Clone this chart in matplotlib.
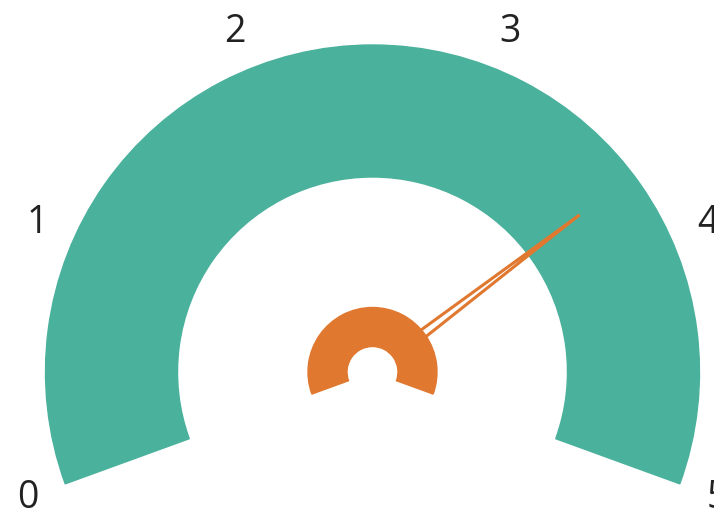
import numpy as np
import matplotlib.pyplot as plt
from matplotlib.patches import Wedge, Polygon

# gauge data
tick_values = [0, 1, 2, 3, 4, 5]
tick_labels = ["0", "1", "2", "3", "4", "5"]
gauge_min = 0
gauge_max = 5
needle_value = 3.7

start_angle = 200
end_angle = -20

band_color = "#4ab19c"
needle_color = "#e0782f"


def value_to_angle(v):
    frac = (v - gauge_min) / (gauge_max - gauge_min)
    return start_angle + frac * (end_angle - start_angle)


fig = plt.figure(figsize=(7.14, 5.11), dpi=100)
ax = fig.add_axes([0, 0, 1, 1])
ax.set_xlim(0, 714)
ax.set_ylim(0, 511)
ax.set_aspect("equal")
ax.axis("off")

cx, cy = 372.5, 139
r_out, r_in = 327, 195

ax.add_patch(Wedge((cx, cy), r_out, end_angle, start_angle,
                   width=r_out - r_in, color=band_color, zorder=1))

# needle: thin outlined wedge, its base hidden under the hub ring
a = np.radians(value_to_angle(needle_value))
u = np.array([np.cos(a), np.sin(a)])
perp = np.array([-np.sin(a), np.cos(a)])
c = np.array([cx, cy])
base = c + 45 * u
tip = c + 260 * u
half = 4.5
ax.add_patch(Polygon([base + half * perp, tip, base - half * perp], closed=True,
                     facecolor="white", edgecolor=needle_color, lw=2.2,
                     joinstyle="miter", zorder=2))

# hub
ax.add_patch(Wedge((cx, cy), 64.5, end_angle, start_angle,
                   width=39, color=needle_color, zorder=3))

# tick labels
for v, lab in zip(tick_values, tick_labels):
    t = np.radians(value_to_angle(v))
    ax.text(cx + 367 * np.cos(t), cy + 367 * np.sin(t), lab,
            ha="center", va="center", fontsize=27, family="Open Sans",
            color="#222222", zorder=4)

fig.savefig("out.png", dpi=100)
